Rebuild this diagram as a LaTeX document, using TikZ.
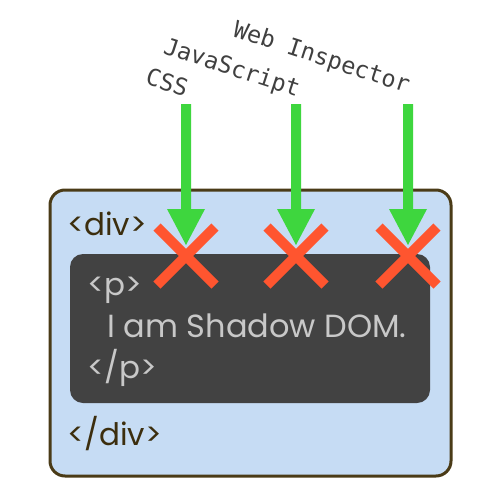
\documentclass[tikz,border=0pt]{standalone}
\usepackage{fontspec}
\setmainfont{Poppins}
\setmonofont{DejaVu Sans Mono}
\definecolor{divfill}{HTML}{C6DCF4}
\definecolor{divborder}{HTML}{4A3B17}
\definecolor{divtext}{HTML}{3C2E0E}
\definecolor{shadowfill}{HTML}{424242}
\definecolor{ptext}{HTML}{C8C8C8}
\definecolor{arrowgreen}{HTML}{3ED63E}
\definecolor{crossred}{HTML}{FF552F}
\definecolor{labeltext}{HTML}{404040}
\begin{document}
\begin{tikzpicture}[x=1pt,y=-1pt,
  divlabel/.style={anchor=base west, inner sep=0pt, text=divtext, font=\fontsize{31}{36}\selectfont},
  plabel/.style={anchor=base west, inner sep=0pt, text=ptext, font=\fontsize{31}{36}\selectfont},
  toollabel/.style={anchor=base east, inner sep=0pt, rotate=-18, text=labeltext, font=\fontsize{23.5}{28}\selectfont\ttfamily},
  crossline/.style={draw=crossred, line width=10pt},
]
\useasboundingbox (0,0) rectangle (500,501);
\fill[white] (0,0) rectangle (500,501);
% outer div box
\draw[line width=3pt, draw=divborder, fill=divfill, rounded corners=15pt] (50,190) rectangle (451,476);
% shadow box
\fill[shadowfill, rounded corners=13pt] (70,254) rectangle (430,403);
% texts
\node[divlabel] (divopen) at (67,235) {<div>};
\node[divlabel] (divclose) at (67,445) {</div>};
\node[plabel] (popen) at (87,295) {<p>};
\node[plabel, font=\fontsize{32}{36}\selectfont] (ptxt) at (107,337) {I am Shadow DOM.};
\node[plabel] (pclose) at (87,378) {</p>};
% tool labels
\node[toollabel] (css) at (185,97) {CSS};
\node[toollabel] (js) at (297,97) {JavaScript};
\node[toollabel] (wi) at (407,93) {Web Inspector};
% arrows and crosses
\foreach \x/\n in {186/a,296/b,408/c}{
  \coordinate (top\n) at (\x,104);
  \coordinate (tip\n) at (\x,245);
  \fill[arrowgreen] ([xshift=-5pt]top\n) -- ([xshift=5pt]top\n) -- (\x+5,209) -- (\x+19,209) -- (tip\n) -- (\x-19,209) -- (\x-5,209) -- cycle;
  \coordinate (x\n) at (\x,256);
  \draw[crossline] ([shift={(-29,-29)}]x\n) -- ([shift={(29,29)}]x\n);
  \draw[crossline] ([shift={(29,-29)}]x\n) -- ([shift={(-29,29)}]x\n);
}
\end{tikzpicture}
\end{document}
